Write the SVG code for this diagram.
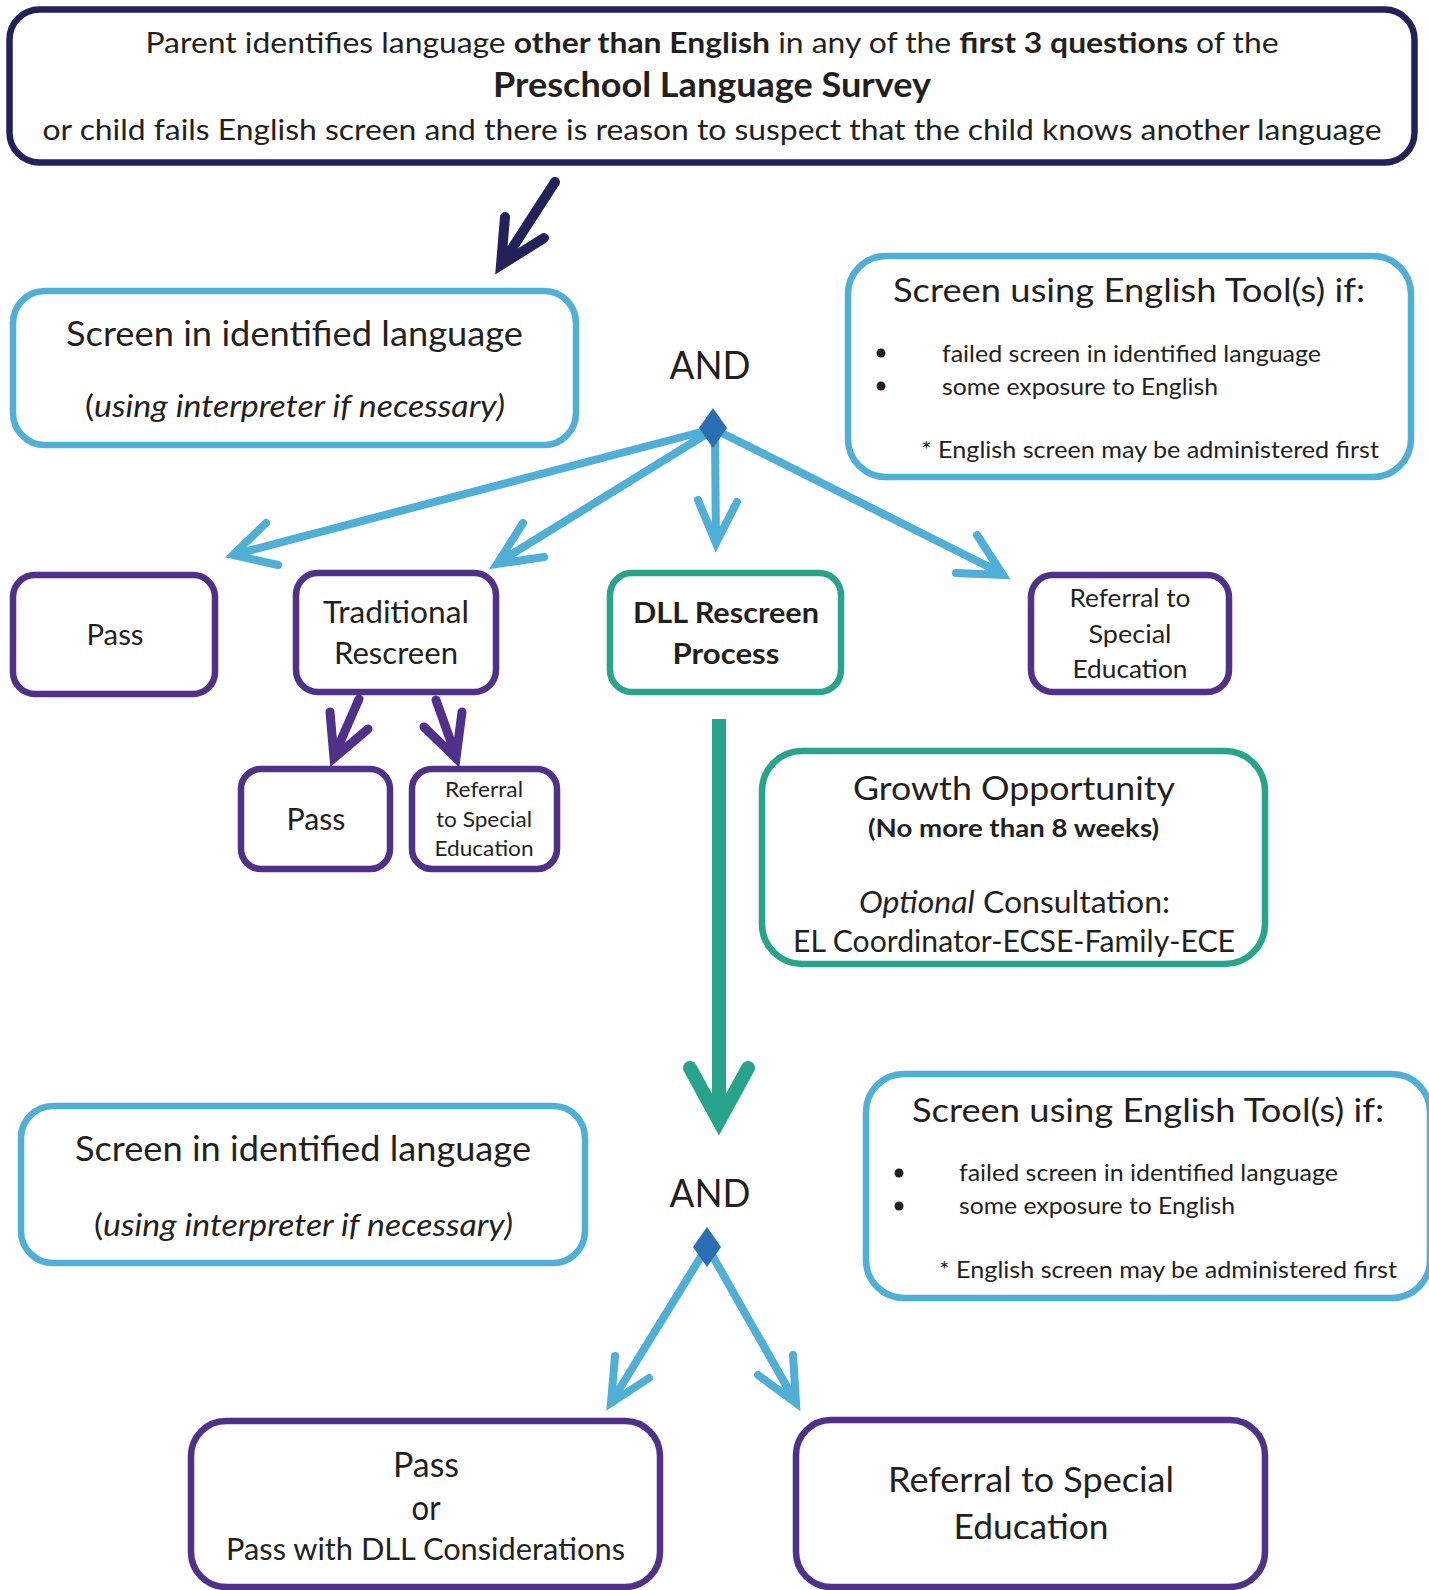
<svg xmlns="http://www.w3.org/2000/svg" width="1429" height="1590" viewBox="0 0 1429 1590">
<style>
text{font-family:Lato,"Open Sans","Liberation Sans",sans-serif;fill:#231f20;text-anchor:middle}
.st{text-anchor:start}
.b{font-weight:bold}
.i{font-style:italic}
.box{fill:#fff;stroke-width:6.5}
.navy{stroke:#22215a}
.blue{stroke:#4fafd6}
.purple{stroke:#51308a}
.teal{stroke:#28a48c}
.ab{fill:none;stroke:#4fafd6;stroke-width:8;stroke-linecap:round;stroke-linejoin:miter}
.ap{fill:none;stroke:#51308a;stroke-width:9;stroke-linecap:round;stroke-linejoin:miter}
.an{fill:none;stroke:#22215a;stroke-width:10;stroke-linecap:round;stroke-linejoin:miter}
.at{fill:none;stroke:#28a48c;stroke-width:14;stroke-linecap:round;stroke-linejoin:miter}
.atl{fill:none;stroke:#28a48c;stroke-width:14;stroke-linecap:butt}
.dia{fill:#2a6fb4}
</style>
<rect width="1429" height="1590" fill="#fff"/>

<g id="connectors">
  <path class="an" d="M555,182 L502,264 M505,217 L501,265 L544,238"/>
  <path class="ab" d="M705,431 L236,554 M266,523 L233,555 L278,565"/>
  <path class="ab" d="M708,433 L499,562 M523,523 L497,564 L544,557"/>
  <path class="ab" d="M715,440 L716,542 M698,500 L716,543 L737,502"/>
  <path class="ab" d="M722,433 L1001,573 M977,535 L1003,575 L956,573"/>
  <path class="ap" d="M359,699 L334,756 M330,712 L334,758 L368,729"/>
  <path class="ap" d="M436,700 L456,756 M462,712 L456,758 L424,727"/>
  <path class="atl" d="M719,719 L719,1118"/>
  <path class="at" d="M690,1068 L719,1121 L748,1068"/>
  <path class="ab" d="M702,1255 L612,1401 M615,1356 L611,1403 L649,1378"/>
  <path class="ab" d="M712,1255 L795,1401 M793,1355 L796,1403 L758,1375"/>
</g>

<g id="top-box">
  <rect class="box navy" x="9.5" y="9.5" width="1405" height="153" rx="30"/>
  <text x="712" y="53" font-size="29" textLength="1133" lengthAdjust="spacingAndGlyphs">Parent identifies language <tspan class="b">other than English</tspan> in any of the <tspan class="b">first 3 questions</tspan> of the</text>
  <text class="b" x="712" y="97" font-size="34" textLength="438" lengthAdjust="spacingAndGlyphs">Preschool Language Survey</text>
  <text x="712" y="140" font-size="29" textLength="1339" lengthAdjust="spacingAndGlyphs">or child fails English screen and there is reason to suspect that the child knows another language</text>
</g>

<g id="screen-1">
  <rect class="box blue" x="13" y="291" width="563" height="154" rx="32"/>
  <text x="294.5" y="346" font-size="35" textLength="457" lengthAdjust="spacingAndGlyphs">Screen in identified language</text>
  <text x="295" y="417" font-size="31" textLength="420" lengthAdjust="spacingAndGlyphs">(<tspan class="i">using interpreter if necessary)</tspan></text>
</g>

<g id="and-1">
  <text x="710" y="379" font-size="39" textLength="81" lengthAdjust="spacingAndGlyphs">AND</text>
  <polygon class="dia" points="713,408 727,428 713,448 699,428"/>
</g>

<g id="english-1">
  <rect class="box blue" x="848" y="256" width="563" height="221" rx="38"/>
  <text x="1129" y="302" font-size="33" textLength="472" lengthAdjust="spacingAndGlyphs">Screen using English Tool(s) if:</text>
  <circle cx="881" cy="353" r="4.5" fill="#231f20"/>
  <circle cx="881" cy="386" r="4.5" fill="#231f20"/>
  <text class="st" x="942" y="362" font-size="23" textLength="379" lengthAdjust="spacingAndGlyphs">failed screen in identified language</text>
  <text class="st" x="942" y="395" font-size="23" textLength="276" lengthAdjust="spacingAndGlyphs">some exposure to English</text>
  <text x="1150" y="458" font-size="23" textLength="458" lengthAdjust="spacingAndGlyphs">* English screen may be administered first</text>
</g>

<g id="pass-1">
  <rect class="box purple" x="13" y="575" width="202" height="119" rx="22"/>
  <text x="115" y="645" font-size="29" textLength="57" lengthAdjust="spacingAndGlyphs">Pass</text>
</g>

<g id="traditional-rescreen">
  <rect class="box purple" x="296" y="573" width="200" height="119" rx="22"/>
  <text x="396" y="623" font-size="30" textLength="146" lengthAdjust="spacingAndGlyphs">Traditional</text>
  <text x="396" y="664" font-size="30" textLength="124" lengthAdjust="spacingAndGlyphs">Rescreen</text>
</g>

<g id="dll-rescreen">
  <rect class="box teal" x="610" y="573" width="231" height="119" rx="22"/>
  <text class="b" x="726" y="623" font-size="28" textLength="186" lengthAdjust="spacingAndGlyphs">DLL Rescreen</text>
  <text class="b" x="726" y="664" font-size="28" textLength="107" lengthAdjust="spacingAndGlyphs">Process</text>
</g>

<g id="referral-1">
  <rect class="box purple" x="1031" y="575" width="198" height="117" rx="22"/>
  <text x="1130" y="607" font-size="25" textLength="121" lengthAdjust="spacingAndGlyphs">Referral to</text>
  <text x="1130" y="643" font-size="25" textLength="83" lengthAdjust="spacingAndGlyphs">Special</text>
  <text x="1130" y="678" font-size="25" textLength="115" lengthAdjust="spacingAndGlyphs">Education</text>
</g>

<g id="pass-2">
  <rect class="box purple" x="241" y="769" width="149" height="100" rx="20"/>
  <text x="316" y="830" font-size="30" textLength="59" lengthAdjust="spacingAndGlyphs">Pass</text>
</g>

<g id="referral-2">
  <rect class="box purple" x="412" y="769" width="145" height="100" rx="20"/>
  <text x="484" y="797" font-size="21" textLength="78" lengthAdjust="spacingAndGlyphs">Referral</text>
  <text x="484" y="827" font-size="21" textLength="96" lengthAdjust="spacingAndGlyphs">to Special</text>
  <text x="484" y="856" font-size="21" textLength="99" lengthAdjust="spacingAndGlyphs">Education</text>
</g>

<g id="growth">
  <rect class="box teal" x="762" y="751" width="503" height="213" rx="40"/>
  <text x="1014" y="800" font-size="33" textLength="322" lengthAdjust="spacingAndGlyphs">Growth Opportunity</text>
  <text class="b" x="1013.5" y="837" font-size="24" textLength="291" lengthAdjust="spacingAndGlyphs">(No more than 8 weeks)</text>
  <text x="1014.5" y="913" font-size="30" textLength="311" lengthAdjust="spacingAndGlyphs"><tspan class="i">Optional</tspan> Consultation:</text>
  <text x="1014" y="952" font-size="30" textLength="442" lengthAdjust="spacingAndGlyphs">EL Coordinator-ECSE-Family-ECE</text>
</g>

<g id="screen-2">
  <rect class="box blue" x="21" y="1106" width="564" height="157" rx="32"/>
  <text x="303" y="1161" font-size="35" textLength="456" lengthAdjust="spacingAndGlyphs">Screen in identified language</text>
  <text x="303.5" y="1236" font-size="31" textLength="419" lengthAdjust="spacingAndGlyphs">(<tspan class="i">using interpreter if necessary)</tspan></text>
</g>

<g id="and-2">
  <text x="710" y="1207" font-size="39" textLength="81" lengthAdjust="spacingAndGlyphs">AND</text>
  <polygon class="dia" points="707,1227 721,1247 707,1267 693,1247"/>
</g>

<g id="english-2">
  <rect class="box blue" x="866" y="1074" width="564" height="224" rx="38"/>
  <text x="1148" y="1122" font-size="33" textLength="472" lengthAdjust="spacingAndGlyphs">Screen using English Tool(s) if:</text>
  <circle cx="899" cy="1173" r="4.5" fill="#231f20"/>
  <circle cx="899" cy="1206" r="4.5" fill="#231f20"/>
  <text class="st" x="959" y="1181" font-size="23" textLength="379" lengthAdjust="spacingAndGlyphs">failed screen in identified language</text>
  <text class="st" x="959" y="1214" font-size="23" textLength="276" lengthAdjust="spacingAndGlyphs">some exposure to English</text>
  <text x="1168" y="1278" font-size="23" textLength="458" lengthAdjust="spacingAndGlyphs">* English screen may be administered first</text>
</g>

<g id="pass-final">
  <rect class="box purple" x="191" y="1421" width="469" height="166" rx="35"/>
  <text x="426" y="1477" font-size="34" textLength="66" lengthAdjust="spacingAndGlyphs">Pass</text>
  <text x="426" y="1520" font-size="34" textLength="29" lengthAdjust="spacingAndGlyphs">or</text>
  <text x="425.5" y="1560" font-size="30" textLength="399" lengthAdjust="spacingAndGlyphs">Pass with DLL Considerations</text>
</g>

<g id="referral-final">
  <rect class="box purple" x="796" y="1420" width="469" height="167" rx="35"/>
  <text x="1031" y="1492" font-size="34" textLength="286" lengthAdjust="spacingAndGlyphs">Referral to Special</text>
  <text x="1031" y="1539" font-size="34" textLength="155" lengthAdjust="spacingAndGlyphs">Education</text>
</g>
</svg>
